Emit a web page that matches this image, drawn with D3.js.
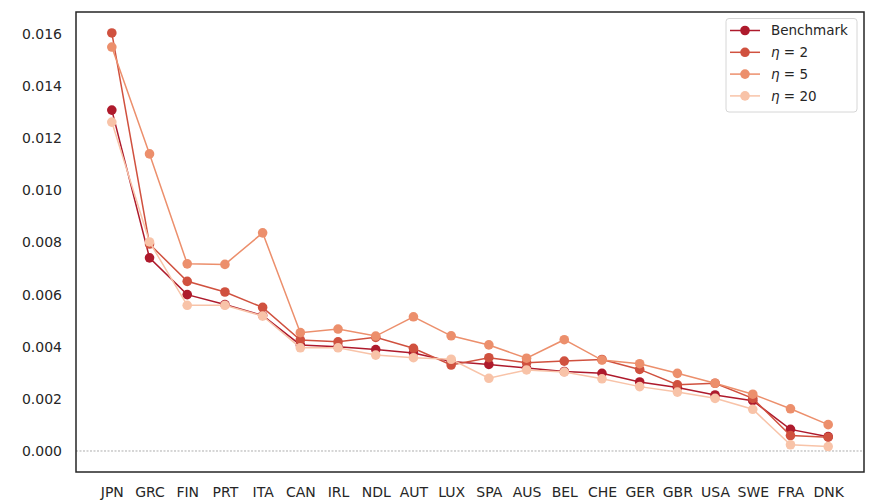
<!DOCTYPE html>
<html>
<head>
<style>
  body { margin: 0; background: #fff; }
  text { font-family: "DejaVu Sans", sans-serif; fill: #262626; }
</style>
<script src="https://d3js.org/d3.v7.min.js"></script>
</head>
<body>
<script>
const countries = ["JPN","GRC","FIN","PRT","ITA","CAN","IRL","NDL","AUT","LUX","SPA","AUS","BEL","CHE","GER","GBR","USA","SWE","FRA","DNK"];
const benchmark = [0.01308,0.00741,0.00600,0.00562,0.00520,0.00407,0.00400,0.00389,0.00376,0.00343,0.00332,0.00318,0.00305,0.00298,0.00265,0.00244,0.00215,0.00193,0.00083,0.00055];
const eta2  = [0.01604,0.00794,0.00651,0.00610,0.00551,0.00426,0.00419,0.00436,0.00394,0.00330,0.00358,0.00339,0.00345,0.00351,0.00313,0.00254,0.00260,0.00202,0.00059,0.00053];
const eta5  = [0.01550,0.01140,0.00718,0.00716,0.00837,0.00454,0.00468,0.00441,0.00515,0.00442,0.00407,0.00356,0.00427,0.00349,0.00335,0.00298,0.00260,0.00218,0.00162,0.00101];
const eta20 = [0.01262,0.00802,0.00559,0.00559,0.00518,0.00396,0.00396,0.00368,0.00358,0.00352,0.00279,0.00311,0.00303,0.00277,0.00247,0.00226,0.00202,0.00160,0.00024,0.00017];
const seriesNames = ["Benchmark","2","5","20"];
const colors = ["#ae1a2c","#d0513f","#ec8f6c","#f8c3a8"];
const yTicks = [0,0.002,0.004,0.006,0.008,0.010,0.012,0.014,0.016];

const w = 874, h = 503;
const mLeft = 76, mRight = 864, mTop = 12, mBottom = 472;

const svg = d3.select("body").append("svg").attr("width", w).attr("height", h);

const x = d3.scaleLinear().domain([-0.95, countries.length - 1 + 0.95]).range([mLeft, mRight]);
const y = d3.scaleLinear().domain([-0.000806, 0.016844]).range([mBottom, mTop]);

// zero line
svg.append("line")
  .attr("x1", mLeft).attr("x2", mRight)
  .attr("y1", y(0)).attr("y2", y(0))
  .attr("stroke", "#999").attr("stroke-width", 0.8).attr("stroke-dasharray", "2,1.5");

const allSeries = [benchmark, eta2, eta5, eta20];
const line = d3.line().x((d, i) => x(i)).y(d => y(d));

allSeries.forEach((s, k) => {
  const g = svg.append("g");
  g.append("path").datum(s)
    .attr("d", line).attr("fill", "none")
    .attr("stroke", colors[k]).attr("stroke-width", 1.5);
  g.selectAll("circle").data(s).enter().append("circle")
    .attr("cx", (d, i) => x(i)).attr("cy", d => y(d))
    .attr("r", 4.8).attr("fill", colors[k]);
});

// axes
const yAxis = d3.axisLeft(y).tickValues(yTicks).tickFormat(d3.format(".3f")).tickSize(0).tickPadding(14);
const yg = svg.append("g").attr("transform", `translate(${mLeft},0)`).call(yAxis);
const xAxis = d3.axisBottom(x).tickValues(d3.range(countries.length)).tickFormat(i => countries[i]).tickSize(0).tickPadding(15);
const xg = svg.append("g").attr("transform", `translate(0,${mBottom})`).call(xAxis);
[yg, xg].forEach(g => {
  g.select(".domain").remove();
  g.selectAll("text").attr("font-size", 14).attr("font-family", "DejaVu Sans").attr("fill", "#262626");
});

// frame
svg.append("rect")
  .attr("x", mLeft).attr("y", mTop)
  .attr("width", mRight - mLeft).attr("height", mBottom - mTop)
  .attr("fill", "none").attr("stroke", "#262626").attr("stroke-width", 1.5);

// legend
const lg = svg.append("g");
lg.append("rect")
  .attr("x", 726).attr("y", 18.5).attr("width", 131).attr("height", 93.5).attr("rx", 3)
  .attr("fill", "#fff").attr("fill-opacity", 0.8).attr("stroke", "#d6d6d6").attr("stroke-width", 1);
seriesNames.forEach((name, k) => {
  const yy = 30.5 + k * 21.8;
  lg.append("line").attr("x1", 730).attr("x2", 760).attr("y1", yy).attr("y2", yy)
    .attr("stroke", colors[k]).attr("stroke-width", 1.5);
  lg.append("circle").attr("cx", 745).attr("cy", yy).attr("r", 4.8).attr("fill", colors[k]);
  const t = lg.append("text").attr("x", 771).attr("y", yy + 4.8).attr("font-size", 13.5);
  if (k === 0) {
    t.text(name);
  } else {
    t.append("tspan").attr("font-style", "italic").text("η");
    t.append("tspan").text(" = " + name);
  }
});
</script>
</body>
</html>
